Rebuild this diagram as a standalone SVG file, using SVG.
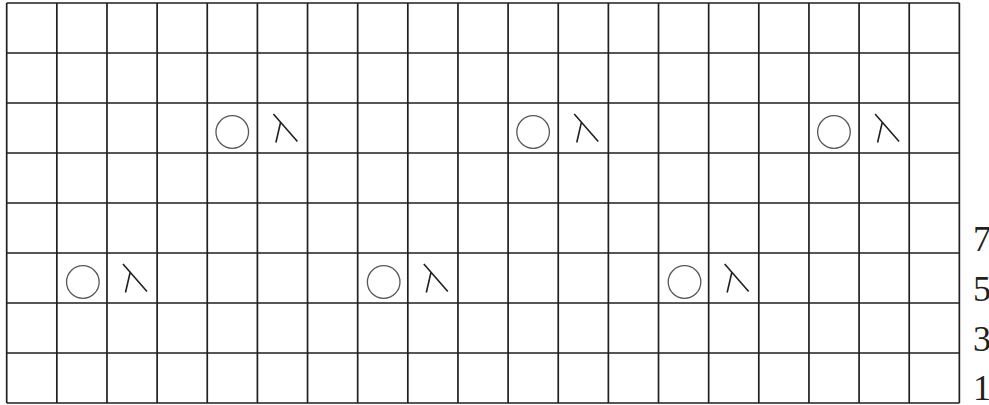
<svg xmlns="http://www.w3.org/2000/svg" xmlns:xlink="http://www.w3.org/1999/xlink" width="989" height="405" viewBox="0 0 989 405">
<style>
.grid{stroke:#231f20;stroke-width:1.7;fill:none}
.yo{fill:none;stroke:#58585a;stroke-width:1.3}
.k2tog{fill:none;stroke:#231f20;stroke-width:1.6;stroke-linecap:butt}
.num{font-family:"Liberation Serif","Times New Roman",serif;font-size:36px;fill:#231f20}
</style>
<defs>
<g id="yo"><circle class="yo" cx="27" cy="29" r="16.3"/></g>
<g id="dec"><path class="k2tog" d="M16,11 L40,38.5 M23.2,19.3 L18.5,39.5"/></g>
</defs>
<rect width="989" height="405" fill="#ffffff"/>
<g id="grid">
<path class="grid" d="M6.7,3 V403 M56.84,3 V403 M106.98,3 V403 M157.12,3 V403 M207.26,3 V403 M257.4,3 V403 M307.54,3 V403 M357.68,3 V403 M407.82,3 V403 M457.96,3 V403 M508.1,3 V403 M558.24,3 V403 M608.38,3 V403 M658.52,3 V403 M708.66,3 V403 M758.8,3 V403 M808.94,3 V403 M859.08,3 V403 M909.22,3 V403 M959.36,3 V403"/>
<path class="grid" d="M6.7,3 H959.36 M6.7,53 H959.36 M6.7,103 H959.36 M6.7,153 H959.36 M6.7,203 H959.36 M6.7,253 H959.36 M6.7,303 H959.36 M6.7,353 H959.36 M6.7,403 H959.36"/>
</g>
<g id="symbols">
<use xlink:href="#yo" href="#yo" x="205.26" y="103"/>
<use xlink:href="#dec" href="#dec" x="257.4" y="103"/>
<use xlink:href="#yo" href="#yo" x="506.1" y="103"/>
<use xlink:href="#dec" href="#dec" x="558.24" y="103"/>
<use xlink:href="#yo" href="#yo" x="806.94" y="103"/>
<use xlink:href="#dec" href="#dec" x="859.08" y="103"/>
<use xlink:href="#yo" href="#yo" x="55.84" y="253"/>
<use xlink:href="#dec" href="#dec" x="106.98" y="253"/>
<use xlink:href="#yo" href="#yo" x="356.68" y="253"/>
<use xlink:href="#dec" href="#dec" x="407.82" y="253"/>
<use xlink:href="#yo" href="#yo" x="657.52" y="253"/>
<use xlink:href="#dec" href="#dec" x="708.66" y="253"/>
</g>
<g id="row-numbers">
<text class="num" x="973" y="251">7</text>
<text class="num" x="973" y="301">5</text>
<text class="num" x="973" y="351">3</text>
<text class="num" x="973" y="400">1</text>
</g>
</svg>
